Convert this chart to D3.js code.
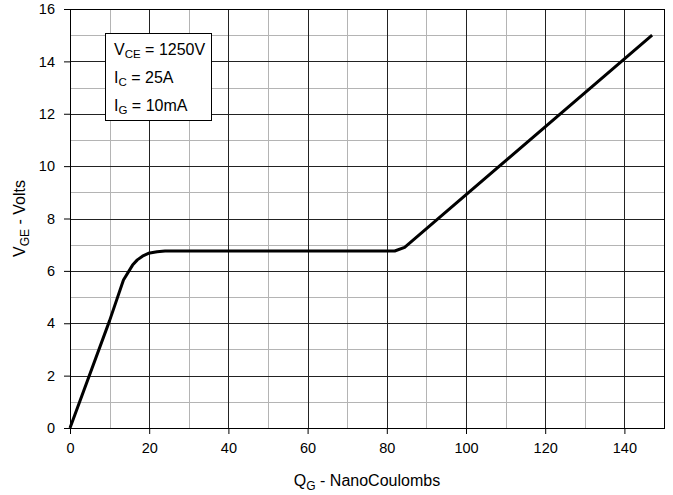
<!DOCTYPE html>
<html>
<head>
<meta charset="utf-8">
<script src="https://cdn.jsdelivr.net/npm/d3@7"></script>
<style>
  body { margin: 0; background: #fff; }
  svg { display: block; font-family: "Liberation Sans", Arial, sans-serif; }
</style>
</head>
<body>
<div id="chart"></div>
<script>
// gate charge curve
const qg  = [0, 10, 13.5, 15.8, 17, 18.3, 19.8, 22, 24, 82, 84.5, 147];
const vge = [0, 4.1, 5.65, 6.22, 6.42, 6.56, 6.67, 6.73, 6.76, 6.76, 6.9, 15];

const xTicks = [0, 20, 40, 60, 80, 100, 120, 140];
const yTicks = [0, 2, 4, 6, 8, 10, 12, 14, 16];

const legendLines = [
    { main: "V", sub: "CE", rest: " = 1250V" },
    { main: "I", sub: "C", rest: " = 25A" },
    { main: "I", sub: "G", rest: " = 10mA" }
];

const W = 673, H = 495;
const margin = { top: 9, right: 9, bottom: 67, left: 70 };
const width = W - margin.left - margin.right,
      height = H - margin.top - margin.bottom;

const svg = d3.select("#chart").append("svg")
    .attr("width", W).attr("height", H);
const g = svg.append("g")
    .attr("transform", `translate(${margin.left},${margin.top})`);

const x = d3.scaleLinear().domain([0, 150]).range([0, width]);
const y = d3.scaleLinear().domain([0, 16]).range([height, 0]);

// minor grid
g.append("g").selectAll("line")
    .data(d3.range(10, 150, 20))
    .enter().append("line")
    .attr("x1", d => Math.round(x(d)) + 0.5).attr("x2", d => Math.round(x(d)) + 0.5)
    .attr("y1", 0).attr("y2", height)
    .attr("stroke", "#b4b4b4");
g.append("g").selectAll("line")
    .data(d3.range(1, 16, 2))
    .enter().append("line")
    .attr("y1", d => Math.round(y(d)) + 0.5).attr("y2", d => Math.round(y(d)) + 0.5)
    .attr("x1", 0).attr("x2", width)
    .attr("stroke", "#b4b4b4");

// major grid
g.append("g").selectAll("line")
    .data(xTicks.filter(d => d > 0))
    .enter().append("line")
    .attr("x1", d => Math.round(x(d)) + 0.5).attr("x2", d => Math.round(x(d)) + 0.5)
    .attr("y1", 0).attr("y2", height)
    .attr("stroke", "#222");
g.append("g").selectAll("line")
    .data(yTicks.filter(d => d > 0 && d < 16))
    .enter().append("line")
    .attr("y1", d => Math.round(y(d)) + 0.5).attr("y2", d => Math.round(y(d)) + 0.5)
    .attr("x1", 0).attr("x2", width)
    .attr("stroke", "#222");

// frame
g.append("rect")
    .attr("x", 0.5).attr("y", 0.5)
    .attr("width", width).attr("height", height)
    .attr("fill", "none").attr("stroke", "#000");

// axes
const xAxis = g.append("g")
    .attr("transform", `translate(0,${height})`)
    .call(d3.axisBottom(x).tickValues(xTicks).tickSize(6).tickPadding(9));
const yAxis = g.append("g")
    .call(d3.axisLeft(y).tickValues(yTicks).tickSize(6).tickPadding(9));
[xAxis, yAxis].forEach(a => {
    a.select(".domain").remove();
    a.selectAll("line").attr("stroke", "#000");
    a.selectAll("text").attr("font-size", 14.5).attr("fill", "#000")
        .attr("font-family", "Liberation Sans, Arial, sans-serif");
});

// curve
const pts = qg.map((q, i) => [q, vge[i]]);
g.append("path")
    .datum(pts)
    .attr("fill", "none")
    .attr("stroke", "#000")
    .attr("stroke-width", 3)
    .attr("stroke-linejoin", "round")
    .attr("d", d3.line().x(d => x(d[0])).y(d => y(d[1])));

// legend box
const lg = svg.append("g");
lg.append("rect")
    .attr("x", 105.5).attr("y", 33.5)
    .attr("width", 106).attr("height", 87)
    .attr("fill", "#fff").attr("stroke", "#000");
legendLines.forEach((l, i) => {
    const t = lg.append("text")
        .attr("x", 114).attr("y", 55 + i * 28)
        .attr("font-size", 16);
    t.append("tspan").text(l.main);
    t.append("tspan").attr("font-size", 11.5).attr("dy", 3).text(l.sub);
    t.append("tspan").attr("dy", -3).text(l.rest);
});

// axis titles
const xt = svg.append("text")
    .attr("x", margin.left + width / 2).attr("y", 486)
    .attr("text-anchor", "middle").attr("font-size", 16);
xt.append("tspan").text("Q");
xt.append("tspan").attr("font-size", 12).attr("dy", 4).text("G");
xt.append("tspan").attr("dy", -4).text(" - NanoCoulombs");

const yt = svg.append("text")
    .attr("transform", `translate(25,${margin.top + height / 2}) rotate(-90)`)
    .attr("text-anchor", "middle").attr("font-size", 16);
yt.append("tspan").text("V");
yt.append("tspan").attr("font-size", 12).attr("dy", 4).text("GE");
yt.append("tspan").attr("dy", -4).text(" - Volts");
</script>
</body>
</html>
